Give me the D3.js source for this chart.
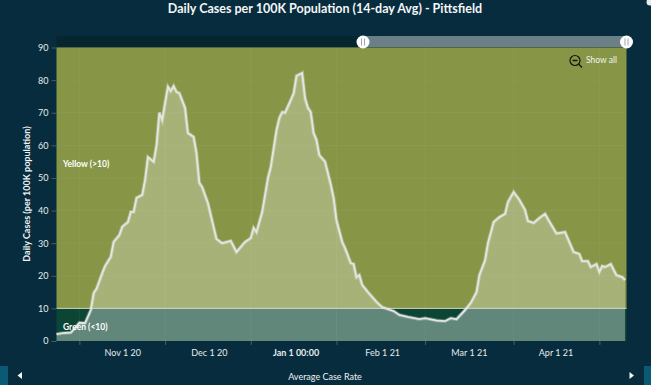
<!DOCTYPE html>
<html>
<head>
<meta charset="utf-8">
<script src="https://cdnjs.cloudflare.com/ajax/libs/d3/7.8.5/d3.min.js"></script>
<style>
    html, body { margin: 0; padding: 0; background: #072c3d; overflow: hidden; }
    svg { display: block; font-family: Lato, "Open Sans", sans-serif; }
    .axis path { display: none; }
    .axis line { stroke: #3f5f6c; }
    .axis text { fill: #e6ebec; font-size: 9px; font-family: Lato, "Open Sans", sans-serif; }
</style>
</head>
<body>
<div id="chart"></div>
<script>
    // values: day offset from the first point, then cases
    const days = [0, 2, 5, 7, 8, 10, 12, 13, 14, 16, 17, 19, 20, 22, 23, 25, 26, 27, 28, 30, 31, 32, 34, 35, 36, 37, 38, 39, 40, 41, 42, 43, 45, 46, 48, 49, 50, 51, 53, 55, 56, 58, 61, 63, 66, 68, 69, 70, 72, 74, 75, 77, 78, 79, 80, 82, 83, 84, 86, 87, 88, 89, 90, 91, 92, 94, 96, 97, 98, 100, 101, 103, 104, 105, 106, 107, 109, 112, 114, 118, 120, 123, 127, 129, 133, 136, 138, 140, 143, 145, 147, 148, 150, 151, 153, 155, 157, 158, 160, 162, 164, 165, 167, 169, 171, 172, 175, 178, 181, 183, 184, 186, 187, 189, 190, 191, 192, 194, 196, 198, 199];
    const cases = [2.1, 2.4, 2.6, 4.5, 5.6, 5.5, 9.5, 14.7, 16, 20.8, 23, 25.8, 30.4, 32.5, 35, 36.5, 39.6, 39.6, 43.9, 44.8, 49.4, 56.4, 55, 60, 70, 67.8, 73, 78, 76.7, 78.2, 76.4, 76, 71.5, 63.8, 62.6, 57.7, 48.5, 47.2, 42.3, 35, 31.3, 30, 30.7, 27.3, 30.4, 31.6, 34.7, 33.4, 39.6, 50, 53.4, 64.7, 68.4, 70.2, 70, 73.9, 76, 81.3, 82.2, 74.5, 71.5, 70.2, 63.8, 61.7, 57, 55, 48, 43.9, 37, 30.4, 28.5, 23.9, 23.6, 19.6, 20.2, 17.2, 15, 12, 10.4, 9.2, 8, 7.4, 6.7, 7, 6.3, 6.1, 7, 6.7, 9.5, 11.7, 15, 20.2, 24.8, 30, 36.5, 38, 39, 42.6, 45.7, 43.3, 40.2, 36.8, 36.2, 37.7, 39, 37.4, 33, 33.4, 27.3, 26.7, 24.5, 24.5, 22.7, 23.6, 21.2, 23, 22.7, 23.6, 20.2, 19.6, 18.7];
    const monthLabels = ['Nov 1 20', 'Dec 1 20', 'Jan 1 00:00', 'Feb 1 21', 'Mar 1 21', 'Apr 1 21'];
    const monthTickDays = [8, 38, 68, 98, 129, 160, 190];
    const yTicks = [0, 10, 20, 30, 40, 50, 60, 70, 80, 90];
    const threshold = 10;

    let margin = {top: 47.5, left: 56.5, right: 24.5, bottom: 44},
        width = 651,
        height = 385,
        data = days.map((d, i) => ({day: d, value: cases[i]}));

    let xScale = d3.scaleLinear()
            .domain([0, 199.5])
            .range([margin.left, width - margin.right]),

        yScale = d3.scaleLinear()
            .domain([0, 90])
            .range([height - margin.bottom, margin.top]),

        // month labels sit between the tick marks
        labelScale = d3.scaleBand()
            .domain(monthLabels)
            .range([xScale(monthTickDays[0]), xScale(monthTickDays[6])]),

        svg = d3.select('#chart')
            .append('svg')
            .attr('width', width)
            .attr('height', height);

    let x0 = margin.left, x1 = width - margin.right,
        plotW = x1 - x0,
        yTop = yScale(90), y10 = yScale(threshold), y0 = yScale(0);

    // area fill is a bit stronger inside the green zone
    let areaGradient = svg.append('defs')
        .append('linearGradient')
        .attr('id', 'area-fill')
        .attr('gradientUnits', 'userSpaceOnUse')
        .attr('x1', 0).attr('x2', 0)
        .attr('y1', yTop).attr('y2', y0);
    let splitAt = (y10 - yTop) / (y0 - yTop);
    areaGradient.append('stop').attr('offset', splitAt).attr('stop-color', '#fff').attr('stop-opacity', 0.27);
    areaGradient.append('stop').attr('offset', splitAt).attr('stop-color', '#fff').attr('stop-opacity', 0.35);

    // title
    svg.append('text')
        .attr('x', 325)
        .attr('y', 12.5)
        .attr('text-anchor', 'middle')
        .attr('fill', '#f4f6f6')
        .attr('font-size', 12.5)
        .attr('font-weight', 700)
        .text('Daily Cases per 100K Population (14-day Avg) - Pittsfield');

    // dark strip over the plot
    svg.append('rect')
        .attr('x', x0).attr('y', 36)
        .attr('width', plotW).attr('height', yTop - 36)
        .attr('fill', '#06262f');

    // zone bands
    svg.append('rect')
        .attr('x', x0).attr('y', yTop)
        .attr('width', plotW).attr('height', y10 - yTop)
        .attr('fill', '#869546');
    svg.append('rect')
        .attr('x', x0).attr('y', y10)
        .attr('width', plotW).attr('height', y0 - y10)
        .attr('fill', '#0c4533');

    // grid
    svg.append('g')
        .selectAll('line')
        .data(yTicks.slice(1))
        .join('line')
        .attr('x1', x0).attr('x2', x1)
        .attr('y1', d => yScale(d)).attr('y2', d => yScale(d))
        .attr('stroke', '#fff').attr('stroke-opacity', 0.05);
    svg.append('g')
        .selectAll('line')
        .data(monthTickDays)
        .join('line')
        .attr('x1', d => xScale(d)).attr('x2', d => xScale(d))
        .attr('y1', yTop).attr('y2', y0)
        .attr('stroke', '#fff').attr('stroke-opacity', 0.05);

    // area under the series
    let area = d3.area()
        .x(d => xScale(d.day))
        .y0(y0)
        .y1(d => yScale(d.value));
    svg.append('path')
        .datum(data)
        .attr('d', area)
        .attr('fill', 'url(#area-fill)');

    // threshold line
    svg.append('line')
        .attr('x1', x0).attr('x2', x1)
        .attr('y1', y10).attr('y2', y10)
        .attr('stroke', '#d4d9c0')
        .attr('stroke-width', 1);

    // series line, the wide one gives the soft halo
    let line = d3.line()
        .x(d => xScale(d.day))
        .y(d => yScale(d.value));
    svg.append('path')
        .datum(data)
        .attr('d', line)
        .attr('fill', 'none')
        .attr('stroke', '#fff')
        .attr('stroke-opacity', 0.25)
        .attr('stroke-width', 3.8);
    svg.append('path')
        .datum(data)
        .attr('d', line)
        .attr('fill', 'none')
        .attr('stroke', '#e2e5e2')
        .attr('stroke-width', 1.9);

    // axes
    svg.append('g')
        .classed('axis', true)
        .attr('transform', `translate(${x0},0)`)
        .call(d3.axisLeft(yScale).tickValues(yTicks).tickSize(5).tickPadding(3));
    svg.append('g')
        .classed('axis', true)
        .attr('transform', `translate(0,${y0})`)
        .call(d3.axisBottom(xScale).tickValues(monthTickDays).tickSize(4).tickFormat(''));
    let labelAxis = svg.append('g')
        .classed('axis', true)
        .attr('transform', `translate(0,${y0 + 6})`)
        .call(d3.axisBottom(labelScale).tickSize(0).tickPadding(3));
    labelAxis.selectAll('text')
        .style('font-weight', d => d.startsWith('Jan') ? 700 : null);

    // y axis title
    svg.append('text')
        .attr('transform', 'translate(30,194) rotate(-90)')
        .attr('text-anchor', 'middle')
        .attr('fill', '#f0f3f3')
        .attr('font-size', 9)
        .attr('font-weight', 700)
        .text('Daily Cases (per 100K population)');

    // zone labels
    svg.append('text')
        .attr('x', 63).attr('y', 167)
        .attr('fill', '#fff').attr('font-size', 8.5).attr('font-weight', 700)
        .text('Yellow (>10)');
    svg.append('text')
        .attr('x', 63).attr('y', 330)
        .attr('fill', '#fff').attr('font-size', 8.5).attr('font-weight', 700)
        .text('Green (<10)');

    // show all button
    svg.append('circle')
        .attr('cx', 575).attr('cy', 60.5).attr('r', 5)
        .attr('fill', 'none').attr('stroke', '#10180f').attr('stroke-width', 1.2);
    svg.append('path')
        .attr('d', 'M572.5 60.5H577.5M578.8 64.3L582 67.5')
        .attr('fill', 'none').attr('stroke', '#10180f').attr('stroke-width', 1.3);
    svg.append('text')
        .attr('x', 586).attr('y', 63)
        .attr('fill', '#f2f4ea').attr('font-size', 8.5)
        .text('Show all');

    // range selector at the top
    let handles = [363, 626.5];
    svg.append('rect')
        .attr('x', handles[0]).attr('y', 36)
        .attr('width', handles[1] - handles[0]).attr('height', 11)
        .attr('fill', '#6b7f87');
    let handle = svg.append('g')
        .selectAll('g')
        .data(handles)
        .join('g')
        .attr('transform', d => `translate(${d},42)`);
    handle.append('circle')
        .attr('r', 6.5)
        .attr('fill', '#fff');
    handle.append('path')
        .attr('d', 'M-1.5 -3.5V3.5M1.5 -3.5V3.5')
        .attr('stroke', '#9aa5aa')
        .attr('stroke-width', 1);

    // bottom scrollbar
    svg.append('rect')
        .attr('x', 0).attr('y', 366).attr('width', 8).attr('height', 19)
        .attr('fill', '#0b5a73');
    svg.append('rect')
        .attr('x', 644).attr('y', 366).attr('width', 7).attr('height', 19)
        .attr('fill', '#0b5a73');
    svg.append('path')
        .attr('d', 'M22 372V379L17.5 375.5Z')
        .attr('fill', '#f2f5f5');
    svg.append('path')
        .attr('d', 'M629.5 372V379L634 375.5Z')
        .attr('fill', '#f2f5f5');
    svg.append('text')
        .attr('x', 325).attr('y', 380)
        .attr('text-anchor', 'middle')
        .attr('fill', '#eef1f2')
        .attr('font-size', 9)
        .text('Average Case Rate');

    // corner icon, mostly off the page
    svg.append('circle')
        .attr('cx', 650).attr('cy', 2).attr('r', 3.5)
        .attr('fill', '#e8ecec');
</script>
</body>
</html>
